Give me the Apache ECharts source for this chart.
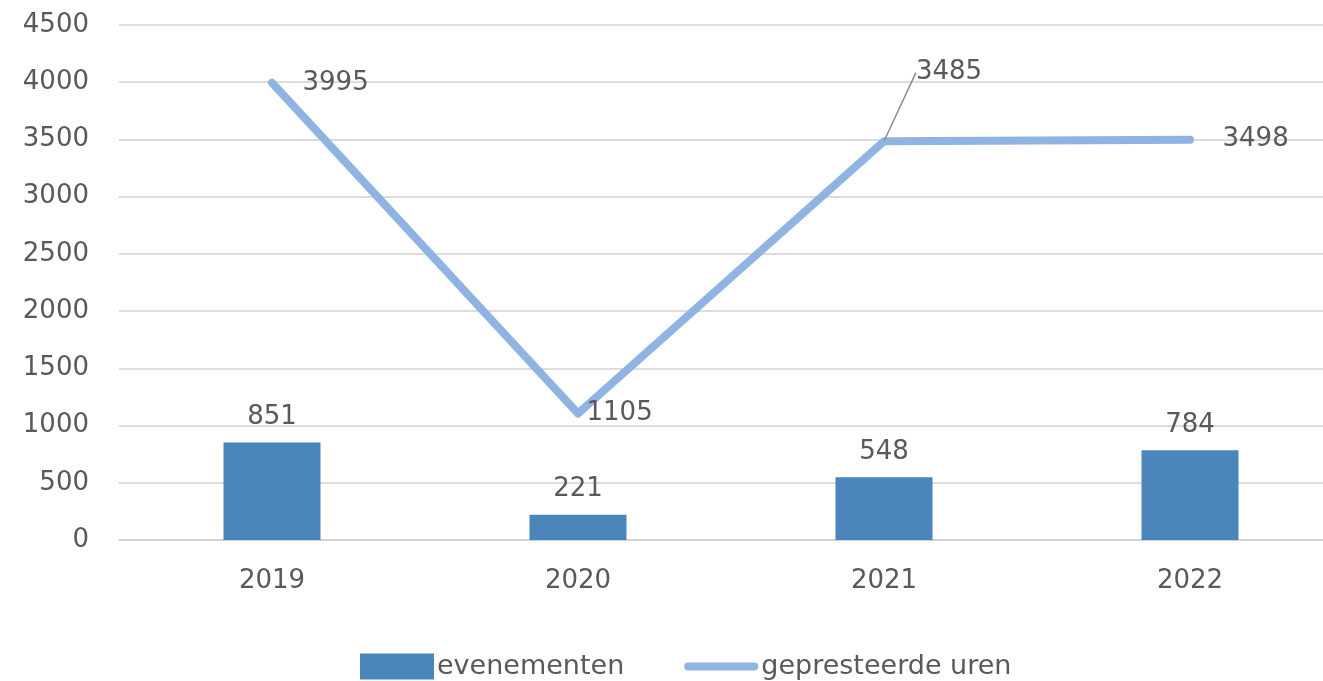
<!DOCTYPE html>
<html>
<head>
<meta charset="utf-8">
<script src="https://cdn.jsdelivr.net/npm/echarts@6/dist/echarts.min.js"></script>
<style>
  html, body { margin: 0; padding: 0; background: #fff; }
  #chart { width: 1323px; height: 681px; }
</style>
</head>
<body>
<div id="chart"></div>
<script>
// data
var years = ['2019', '2020', '2021', '2022'];
var evenementen = [851, 221, 548, 784];
var uren = [3995, 1105, 3485, 3498];

var font = 'DejaVu Sans';
var txt = '#595959';

// per-punt labels van de lijn (offset naar rechts)
var urenLabelDist = [30, 8, 5, 32];
var urenData = uren.map(function (v, i) {
    var item = {
        value: v,
        label: { position: 'right', distance: urenLabelDist[i] },
        labelLine: { show: false }
    };
    if (i == 2) {
        // label boven, met verbindingslijn
        item.label = { position: 'top', distance: 5, padding: [0, 0, 12, 0] };
        item.labelLine = { show: true };
    }
    return item;
});

var chart = echarts.init(document.getElementById('chart'));
chart.setOption({
    animation: false,
    grid: { left: 119, top: 25, width: 1224, height: 515, outerBoundsMode: 'none', containLabel: false },
    legend: {
        left: 355,
        top: 648,
        itemWidth: 74,
        itemHeight: 26,
        itemGap: 60,
        textStyle: { fontFamily: font, fontSize: 27, color: txt, padding: [0, 0, 0, -2] },
        data: [
            { name: 'evenementen', icon: 'rect' },
            { name: 'gepresteerde uren', icon: 'path://M4,0 H70 A4,4 0 0 1 70,8 H4 A4,4 0 0 1 4,0 Z' }
        ]
    },
    xAxis: {
        type: 'category',
        data: years,
        axisLine: { show: true, lineStyle: { color: '#d0d0d0', width: 1.5 } },
        axisTick: { show: false },
        axisLabel: { fontFamily: font, fontSize: 26, color: txt, margin: 28 }
    },
    yAxis: {
        type: 'value',
        min: 0,
        max: 4500,
        interval: 500,
        axisLine: { show: false },
        axisTick: { show: false },
        axisLabel: {
            fontFamily: font, fontSize: 26, color: txt, margin: 30,
            formatter: function (v) { return String(v); }
        },
        splitLine: { lineStyle: { color: '#d0d0d0', width: 1.5 } }
    },
    series: [
        {
            name: 'evenementen',
            type: 'bar',
            data: evenementen,
            barWidth: 97,
            itemStyle: { color: '#4a86bc' },
            label: {
                show: true,
                position: 'top',
                distance: 12,
                fontFamily: font,
                fontSize: 26,
                color: txt
            }
        },
        {
            name: 'gepresteerde uren',
            type: 'line',
            data: urenData,
            symbol: 'circle',
            symbolSize: 1,
            showSymbol: true,
            lineStyle: { color: '#8fb4e2', width: 8, cap: 'round', join: 'round' },
            itemStyle: { color: '#8fb4e2' },
            label: {
                show: true,
                fontFamily: font,
                fontSize: 26,
                color: txt
            },
            labelLine: { lineStyle: { color: '#8c8c8c', width: 1.5 } },
            labelLayout: function (p) {
                if (p.dataIndex == 2) {
                    return { dx: 65, dy: -38 };
                }
                return {};
            },
            z: 3
        }
    ]
});
</script>
</body>
</html>
